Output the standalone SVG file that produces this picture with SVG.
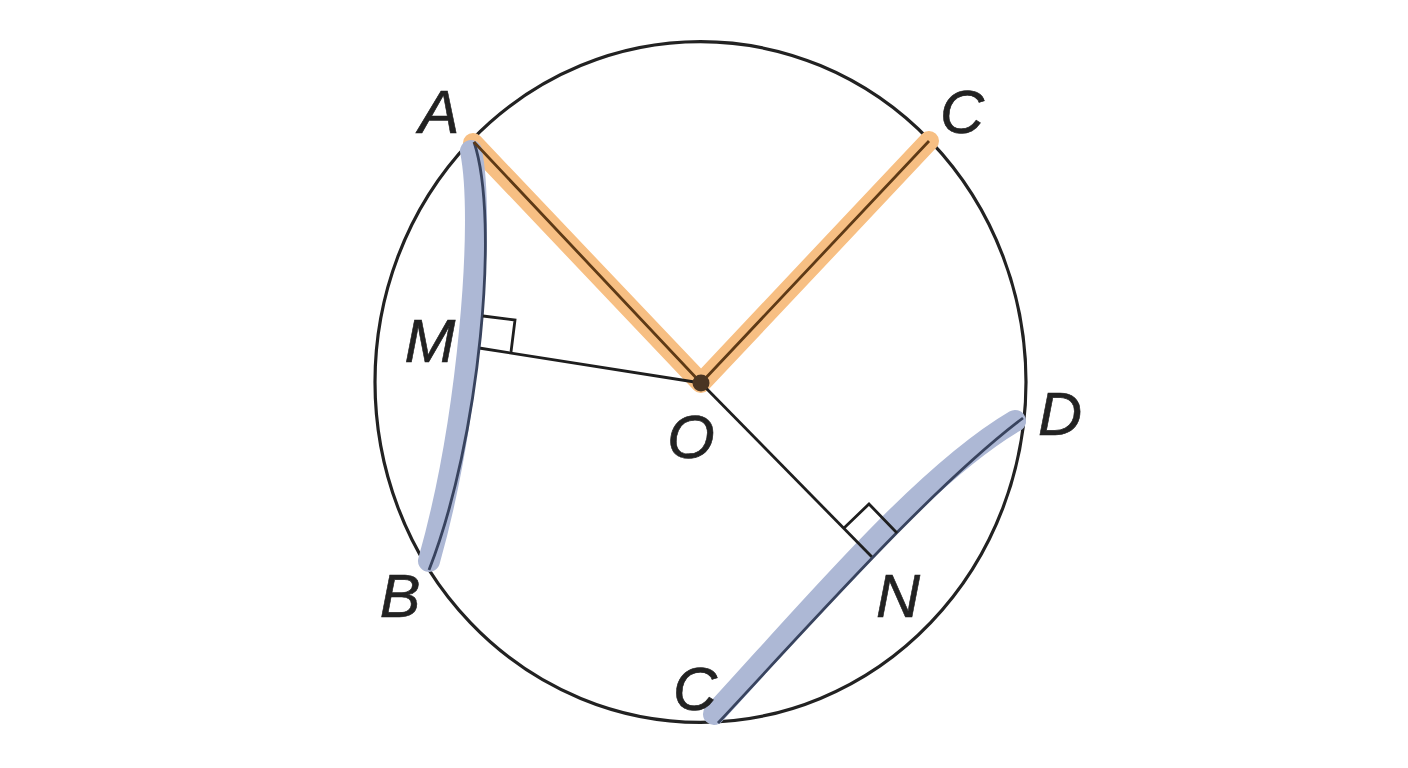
<svg xmlns="http://www.w3.org/2000/svg" width="1408" height="768" viewBox="0 0 1408 768">
<style>
.band-blue{fill:none;stroke:#adb8d5;stroke-width:22;stroke-linecap:round;stroke-linejoin:round}
.band-orange{fill:none;stroke:#f7bf83;stroke-width:20;stroke-linecap:round;stroke-linejoin:round}
.chord{fill:none;stroke:#38435e;stroke-width:2.8}
.radius{fill:none;stroke:#5e3a16;stroke-width:2.8;stroke-linejoin:round}
.seg{fill:none;stroke:#1e1e1e;stroke-width:2.8}
.mark{fill:none;stroke:#1e1e1e;stroke-width:2.8;stroke-linejoin:miter}
.lbl{font-family:"Liberation Sans",Arial,sans-serif;font-style:italic;font-size:61px;fill:#222;stroke:#222;stroke-width:0.6;text-anchor:middle}
</style>
<rect width="1408" height="768" fill="#ffffff"/>
<g id="circle">
<ellipse cx="700.5" cy="382" rx="325.5" ry="340.3" fill="none" stroke="#222" stroke-width="3.2"/>
</g>
<g id="connectors">
<path class="band-orange" d="M473,143 L701,383 L929,141"/>
<path class="band-blue" d="M471,151 C485,220 469,420 429,561"/>
<path class="band-blue" d="M714,714 C809,611 923,475 1015,421"/>
<path class="seg" d="M701,383 L479,348"/>
<path class="seg" d="M701,383 L872,557"/>
<path class="chord" d="M474,142 C500,220 480,440 429,570"/>
<path class="chord" d="M718,723 C818,616 933,486 1023,418"/>
<path class="radius" d="M474,142 L701,383 L929,141"/>
<path class="mark" d="M483,316 L515,320 L511,352"/>
<path class="mark" d="M844,528 L869,504 L897,533"/>
</g>
<g id="O">
<circle cx="701" cy="383" r="8.5" fill="#4a3522"/>
<text class="lbl" x="691" y="458">O</text>
</g>
<g id="A"><text class="lbl" x="439" y="133">A</text></g>
<g id="C1"><text class="lbl" x="962" y="133">C</text></g>
<g id="M"><text class="lbl" x="430" y="362">M</text></g>
<g id="D"><text class="lbl" x="1060" y="435">D</text></g>
<g id="N"><text class="lbl" x="898" y="617">N</text></g>
<g id="B"><text class="lbl" x="400" y="617">B</text></g>
<g id="C2"><text class="lbl" x="695" y="710">C</text></g>
</svg>
